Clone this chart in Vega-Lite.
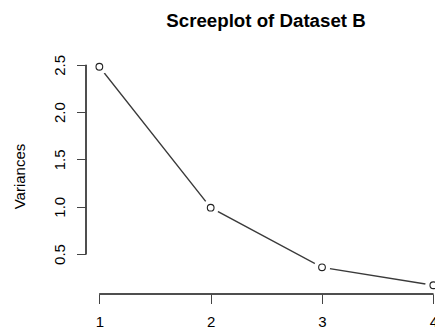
{
  "$schema": "https://vega.github.io/schema/vega-lite/v6.json",
  "width": 349,
  "height": 236,
  "autosize": {"type": "none"},
  "padding": {"left": 86, "top": 58, "right": 0, "bottom": 35},
  "background": "white",
  "config": {"view": {"stroke": null}, "font": "Liberation Sans"},
  "title": {
    "text": "Screeplot of Dataset B",
    "font": "Liberation Sans",
    "fontSize": 18.7,
    "fontWeight": "bold",
    "color": "black",
    "anchor": "middle",
    "frame": "group",
    "offset": 9,
    "baseline": "alphabetic",
    "dx": 5.5
  },
  "data": {
    "values": [
      {"component": 1, "variance": 2.48},
      {"component": 2, "variance": 0.99},
      {"component": 3, "variance": 0.36},
      {"component": 4, "variance": 0.17}
    ]
  },
  "layer": [
    {
      "mark": {"type": "line", "color": "#3a3a3a", "strokeWidth": 1.3, "clip": true},
      "encoding": {
        "x": {
          "field": "component",
          "type": "quantitative",
          "scale": {"domain": [0.88, 4.015], "zero": false, "nice": false},
          "axis": {
            "values": [1, 2, 3, 4],
            "format": "d",
            "domain": false,
            "grid": false,
            "title": null,
            "tickSize": 9.5,
            "tickColor": "#444",
            "tickWidth": 1,
            "labelPadding": 11,
            "labelFont": "Liberation Sans",
            "labelFontSize": 15,
            "labelColor": "black",
            "labelBaseline": "top",
            "labelFlush": false,
            "labelOverlap": false,
            "zindex": 2
          }
        },
        "y": {
          "field": "variance",
          "type": "quantitative",
          "scale": {"domain": [0.0776, 2.5724], "zero": false, "nice": false},
          "axis": {
            "values": [0.5, 1, 1.5, 2, 2.5],
            "format": ".1f",
            "domain": false,
            "grid": false,
            "title": "Variances",
            "titleFont": "Liberation Sans",
            "titleFontSize": 15,
            "titleFontWeight": "normal",
            "titleColor": "black",
            "titleBaseline": "alphabetic",
            "titlePadding": 28,
            "tickSize": 9.5,
            "tickColor": "#444",
            "tickWidth": 1,
            "labelAngle": -90,
            "labelAlign": "center",
            "labelBaseline": "alphabetic",
            "labelPadding": 12.5,
            "labelFont": "Liberation Sans",
            "labelFontSize": 15,
            "labelColor": "black",
            "labelOverlap": false,
            "labelFlush": false,
            "zindex": 2
          }
        }
      }
    },
    {
      "mark": {"type": "point", "shape": "circle", "filled": true, "color": "white", "opacity": 1, "size": 270, "clip": true},
      "encoding": {
        "x": {"field": "component", "type": "quantitative"},
        "y": {"field": "variance", "type": "quantitative"}
      }
    },
    {
      "mark": {"type": "point", "shape": "circle", "filled": false, "color": "#222", "opacity": 1, "strokeWidth": 1.1, "size": 45, "clip": true},
      "encoding": {
        "x": {"field": "component", "type": "quantitative"},
        "y": {"field": "variance", "type": "quantitative"}
      }
    },
    {
      "mark": {"type": "rule", "color": "#444", "strokeWidth": 1},
      "encoding": {
        "x": {"datum": 1},
        "x2": {"datum": 4},
        "y": {"datum": 0.0776}
      }
    },
    {
      "mark": {"type": "rule", "color": "#444", "strokeWidth": 1},
      "encoding": {
        "x": {"datum": 0.88},
        "y": {"datum": 0.5},
        "y2": {"datum": 2.5}
      }
    }
  ]
}
